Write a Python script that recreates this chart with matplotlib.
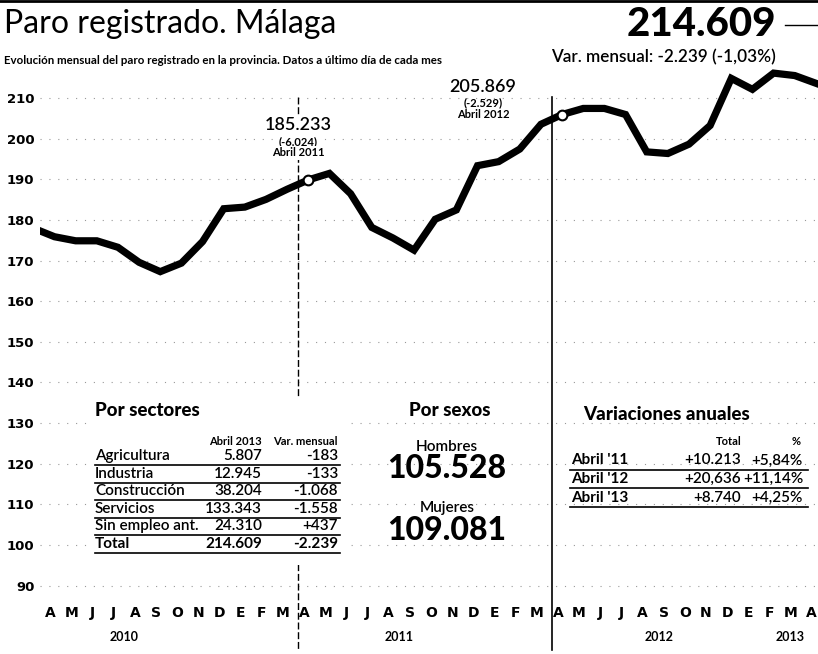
import matplotlib.pyplot as plt
import numpy as np

# datos (miles de parados), de marzo 2010 a abril 2013
meses = ['M'] + ['A', 'M', 'J', 'J', 'A', 'S', 'O', 'N', 'D', 'E', 'F', 'M'] * 3 + ['A']
paro = [178.0, 175.9, 174.9, 174.9, 173.3, 169.6, 167.3, 169.4, 174.7, 182.8,
        183.2, 185.1, 187.6, 189.9, 191.5, 186.5, 178.2, 175.6, 172.6, 180.2,
        182.5, 193.4, 194.4, 197.5, 203.6, 206.0, 207.5, 207.5, 206.0, 196.8,
        196.4, 198.7, 203.3, 214.9, 212.2, 216.2, 215.6, 213.7]
idx = np.arange(-1, len(paro) - 1)
destacados = [12, 24]
anios = ['2010', '2011', '2012', '2013']
pos_anios = [3.3, 16.3, 28.6, 34.8]
yticks = [90, 100, 110, 120, 130, 140, 150, 160, 170, 180, 190, 200, 210]

sectores = ['Agricultura', 'Industria', 'Construcción', 'Servicios', 'Sin empleo ant.', 'Total']
abril_2013 = ['5.807', '12.945', '38.204', '133.343', '24.310', '214.609']
var_mensual = ['-183', '-133', '-1.068', '-1.558', '+437', '-2.239']

sexos = ['Hombres', 'Mujeres']
sexos_val = ['105.528', '109.081']

var_anual = ["Abril '11", "Abril '12", "Abril '13"]
var_total = ['+10.213', '+20,636', '+8.740']
var_pct = ['+5,84%', '+11,14%', '+4,25%']

W, H = 818, 654


def fx(x):
    return x / W


def fy(y):
    return 1 - y / H


cond = ['Lato', 'DejaVu Sans']
tick_font = ['DejaVu Sans']

fig = plt.figure(figsize=(W / 100, H / 100), dpi=100)
ax = fig.add_axes([fx(40), fy(600), 1 - fx(40), (600 - 60) / H])

ax.plot(idx, paro, color='black', lw=5.2, solid_joinstyle='miter', zorder=3)
ax.plot(idx[[i + 1 for i in destacados]], [paro[i + 1] for i in destacados], 'o',
        ms=7, mfc='white', mec='black', mew=1.5, zorder=4)

ax.set_xlim(-0.686, 36.1)
ax.set_ylim(86.43, 219.43)
ax.set_yticks(yticks)
ax.set_yticklabels([str(v) for v in yticks], fontsize=9.5, fontweight='bold', family=tick_font)
ax.set_xticks(np.arange(0, 37) - 0.2)
ax.set_xticklabels(meses[1:], fontsize=10, fontweight='bold', family=tick_font)
ax.tick_params(length=0, pad=4)
for s in ax.spines.values():
    s.set_visible(False)
ax.grid(axis='y', color='#999999', lw=0.8, linestyle=(0, (1, 7)))

tr = ax.get_xaxis_transform()
for a, p in zip(anios, pos_anios):
    ax.text(p, -0.0685, a, transform=tr, ha='center', va='center',
            fontsize=9, fontweight='bold', family=cond)

# separadores de año
ax.plot([11.5, 11.5], [210.3, 74], color='black', lw=1, ls=(0, (5, 2)), clip_on=False, zorder=2)
ax.plot([23.5, 23.5], [210.3, 74], color='black', lw=1.2, clip_on=False, zorder=2)

# filete superior
fig.add_artist(plt.Line2D([0, 1], [fy(1), fy(1)], color='black', lw=2))

# cabecera
fig.text(fx(4), fy(24), 'Paro registrado. Málaga', fontsize=23, family=['Lato', 'DejaVu Sans'],
         fontweight='normal', va='center', ha='left')
fig.text(fx(4), fy(60), 'Evolución mensual del paro registrado en la provincia. Datos a último día de cada mes',
         fontsize=8.3, fontweight='bold', family=cond, va='center', ha='left')
fig.text(fx(776), fy(25), '214.609', fontsize=29, fontweight='black', family=['Lato', 'DejaVu Sans'],
         va='center', ha='right')
fig.add_artist(plt.Line2D([fx(785), fx(818)], [fy(25), fy(25)], color='black', lw=1))
fig.text(fx(776), fy(57), 'Var. mensual: -2.239 (-1,03%)', fontsize=12.3, fontweight='semibold',
         family=cond, va='center', ha='right')

# anotaciones
caja = dict(facecolor='white', edgecolor='none', pad=1)
fig.text(fx(298), fy(125), '185.233', fontsize=13, family=cond, fontweight='semibold',
         ha='center', va='center', bbox=caja)
fig.text(fx(298), fy(141.5), '(-6.024)', fontsize=8, fontweight='bold', family=cond,
         ha='center', va='center', bbox=caja)
fig.text(fx(298), fy(153), 'Abril 2011', fontsize=8, fontweight='bold', family=cond,
         ha='center', va='center', bbox=caja)
fig.text(fx(483), fy(87), '205.869', fontsize=13, family=cond, fontweight='semibold',
         ha='center', va='center')
fig.text(fx(483), fy(102.5), '(-2.529)', fontsize=8, fontweight='bold', family=cond, ha='center', va='center')
fig.text(fx(483), fy(115), 'Abril 2012', fontsize=8, fontweight='bold', family=cond, ha='center', va='center')

# Por sectores (fondo blanco que tapa el separador)
fig.add_artist(plt.Rectangle((fx(90), fy(565)), fx(345) - fx(90), (565 - 397) / H,
                             facecolor='white', edgecolor='none', zorder=1.5))
fig.text(fx(95), fy(410), 'Por sectores', fontsize=13.5, fontweight='black', family=cond,
         va='center', ha='left', zorder=3)
fig.text(fx(262), fy(441.5), 'Abril 2013', fontsize=8, fontweight='bold', family=cond,
         va='center', ha='right', zorder=3)
fig.text(fx(338), fy(441.5), 'Var. mensual', fontsize=8, fontweight='bold', family=cond,
         va='center', ha='right', zorder=3)
for k, (s, a, v) in enumerate(zip(sectores, abril_2013, var_mensual)):
    y = 456 + k * 17.6
    w = 'bold' if s == 'Total' else 'semibold'
    fig.text(fx(95), fy(y), s, fontsize=11, family=cond, fontweight=w, va='center', ha='left', zorder=3)
    fig.text(fx(262), fy(y), a, fontsize=11, family=cond, fontweight=w, va='center', ha='right', zorder=3)
    fig.text(fx(338), fy(y), v, fontsize=11, family=cond, fontweight=w, va='center', ha='right', zorder=3)
    fig.add_artist(plt.Line2D([fx(95), fx(340)], [fy(y + 9), fy(y + 9)], color='black', lw=1.2, zorder=3))

# Por sexos
fig.text(fx(450), fy(411), 'Por sexos', fontsize=13.5, fontweight='black', family=cond,
         va='center', ha='center')
for k, (s, v) in enumerate(zip(sexos, sexos_val)):
    fig.text(fx(447), fy(447 + k * 61), s, fontsize=11, fontweight='semibold', family=cond,
             va='center', ha='center')
    fig.text(fx(447), fy(469 + k * 61), v, fontsize=23, fontweight='black',
             family=cond, va='center', ha='center')

# Variaciones anuales
fig.text(fx(583), fy(415), 'Variaciones anuales', fontsize=13.5, fontweight='black',
         family=cond, va='center', ha='left')
fig.text(fx(742), fy(441.5), 'Total', fontsize=8, fontweight='bold', family=cond, va='center', ha='right')
fig.text(fx(801), fy(441.5), '%', fontsize=8, fontweight='bold', family=cond, va='center', ha='right')
for k, (a, t, p) in enumerate(zip(var_anual, var_total, var_pct)):
    y = 460.5 + k * 18.7
    fig.text(fx(571), fy(y), a, fontsize=11, fontweight='bold', family=cond, va='center', ha='left')
    fig.text(fx(741), fy(y), t, fontsize=11, fontweight='semibold', family=cond, va='center', ha='right')
    fig.text(fx(803), fy(y), p, fontsize=11, fontweight='semibold', family=cond, va='center', ha='right')
    fig.add_artist(plt.Line2D([fx(570), fx(808)], [fy(y + 9), fy(y + 9)], color='black', lw=1.2))

fig.savefig('out.png', dpi=100)
